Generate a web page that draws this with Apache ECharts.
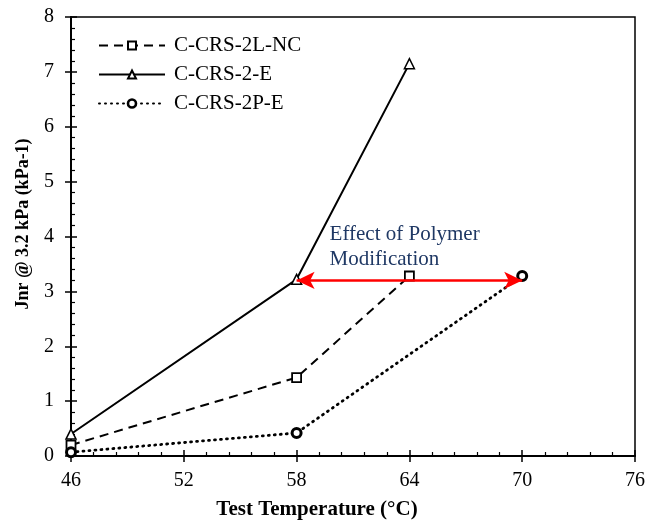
<!DOCTYPE html>
<html>
<head>
<meta charset="utf-8">
<script src="https://cdn.jsdelivr.net/npm/echarts@6/dist/echarts.min.js"></script>
<style>
  html, body { margin: 0; padding: 0; background: #fff; }
  #chart { width: 662px; height: 522px; }
</style>
</head>
<body>
<div id="chart"></div>
<script>
// Test temperatures (°C) and Jnr @ 3.2 kPa values for each emulsion residue
const tempNC = [46, 58, 64];
const jnrNC = [0.2, 1.43, 3.28];

const tempE = [46, 58, 64];
const jnrE = [0.4, 3.22, 7.15];

const tempPE = [46, 58, 70];
const jnrPE = [0.07, 0.42, 3.28];

const seriesNames = ['C-CRS-2L-NC', 'C-CRS-2-E', 'C-CRS-2P-E'];

// Arrow showing the shift in grade from polymer modification
const arrowFrom = [58, 3.2];
const arrowTo = [70, 3.2];
const arrowText = 'Effect of Polymer\nModification';

const FONT = '"Liberation Serif", "Times New Roman", serif';

function pairs(xs, ys) { return xs.map((x, i) => [x, ys[i]]); }

const chart = echarts.init(document.getElementById('chart'), null, { renderer: 'canvas' });

const baseX = { type: 'value', min: 46, max: 76, interval: 6, gridIndex: 0 };
const baseY = { type: 'value', min: 0, max: 8, interval: 1, gridIndex: 0 };

chart.setOption({
  animation: false,
  backgroundColor: '#fff',
  grid: {
    left: 71, right: 27, top: 17, bottom: 66,
    containLabel: false, outerBoundsMode: 'none',
    show: true, borderColor: '#000', borderWidth: 1.5, backgroundColor: 'transparent'
  },
  legend: {
    orient: 'vertical',
    left: 93, top: 30,
    itemWidth: 66, itemHeight: 10, itemGap: 8,
    data: [
      { name: seriesNames[0] },
      { name: seriesNames[1] },
      { name: seriesNames[2], itemStyle: { borderWidth: 2.6 } }
    ],
    textStyle: { fontFamily: FONT, fontSize: 21, color: '#000', padding: [0, 0, 0, 4] }
  },
  xAxis: [
    Object.assign({}, baseX, {
      name: 'Test Temperature (°C)',
      nameLocation: 'middle', nameGap: 43,
      nameTextStyle: {
        fontFamily: FONT, fontSize: 21, fontWeight: 'bold', color: '#000',
        padding: [0, 72, 0, 0]
      },
      axisLine: { show: true, lineStyle: { color: '#000', width: 2 } },
      axisTick: { show: true, inside: true, length: 6, lineStyle: { color: '#000', width: 1.5 } },
      minorTick: { show: true, splitNumber: 5, length: 4, lineStyle: { color: '#000', width: 1.2 } },
      axisLabel: { fontFamily: FONT, fontSize: 20, color: '#000', margin: 15 },
      splitLine: { show: false }
    }),
    Object.assign({}, baseX, {
      position: 'bottom',
      axisLine: { show: false },
      axisTick: { show: true, inside: false, length: 6, lineStyle: { color: '#000', width: 1.5 } },
      axisLabel: { show: false },
      splitLine: { show: false }
    })
  ],
  yAxis: [
    Object.assign({}, baseY, {
      name: 'Jnr @ 3.2 kPa (kPa-1)',
      nameLocation: 'middle', nameGap: 39,
      nameTextStyle: {
        fontFamily: FONT, fontSize: 18, fontWeight: 'bold', color: '#000',
        padding: [0, 0, 0, 25]
      },
      axisLine: { show: true, lineStyle: { color: '#000', width: 2 } },
      axisTick: { show: true, inside: true, length: 6, lineStyle: { color: '#000', width: 1.5 } },
      minorTick: { show: true, splitNumber: 5, length: 4, lineStyle: { color: '#000', width: 1.2 } },
      axisLabel: { fontFamily: FONT, fontSize: 20, color: '#000', margin: 17 },
      splitLine: { show: false }
    }),
    Object.assign({}, baseY, {
      position: 'left',
      axisLine: { show: false },
      axisTick: { show: true, inside: false, length: 6, lineStyle: { color: '#000', width: 1.5 } },
      axisLabel: { show: false },
      splitLine: { show: false }
    })
  ],
  series: [
    {
      name: seriesNames[0], type: 'line', xAxisIndex: 0, yAxisIndex: 0,
      data: pairs(tempNC, jnrNC),
      symbol: 'rect', symbolSize: 9, showAllSymbol: true,
      lineStyle: { color: '#000', width: 2, type: [9, 6] },
      itemStyle: { color: '#fff', borderColor: '#000', borderWidth: 1.8 },
      z: 3
    },
    {
      name: seriesNames[1], type: 'line', xAxisIndex: 0, yAxisIndex: 0,
      data: pairs(tempE, jnrE),
      symbol: 'triangle', symbolSize: 10,
      lineStyle: { color: '#000', width: 2, type: 'solid' },
      itemStyle: { color: '#fff', borderColor: '#000', borderWidth: 1.5 },
      z: 3
    },
    {
      name: seriesNames[2], type: 'line', xAxisIndex: 0, yAxisIndex: 0,
      data: pairs(tempPE, jnrPE),
      symbol: 'circle', symbolSize: 9,
      lineStyle: { color: '#000', width: 2.8, type: [1, 5], cap: 'round' },
      itemStyle: { color: '#fff', borderColor: '#000', borderWidth: 3 },
      z: 3,
      markLine: {
        silent: true,
        symbol: ['arrow', 'arrow'],
        symbolSize: [13, 18],
        lineStyle: { color: '#ff0000', width: 2.5, type: 'solid' },
        itemStyle: { color: '#ff0000' },
        label: {
          show: true,
          position: 'insideStartTop',
          formatter: arrowText,
          fontFamily: FONT, fontSize: 21, lineHeight: 25,
          color: '#1F3864', align: 'left',
          distance: [33, 8]
        },
        data: [[{ coord: arrowFrom }, { coord: arrowTo }]],
        z: 4
      }
    }
  ]
});
</script>
</body>
</html>
